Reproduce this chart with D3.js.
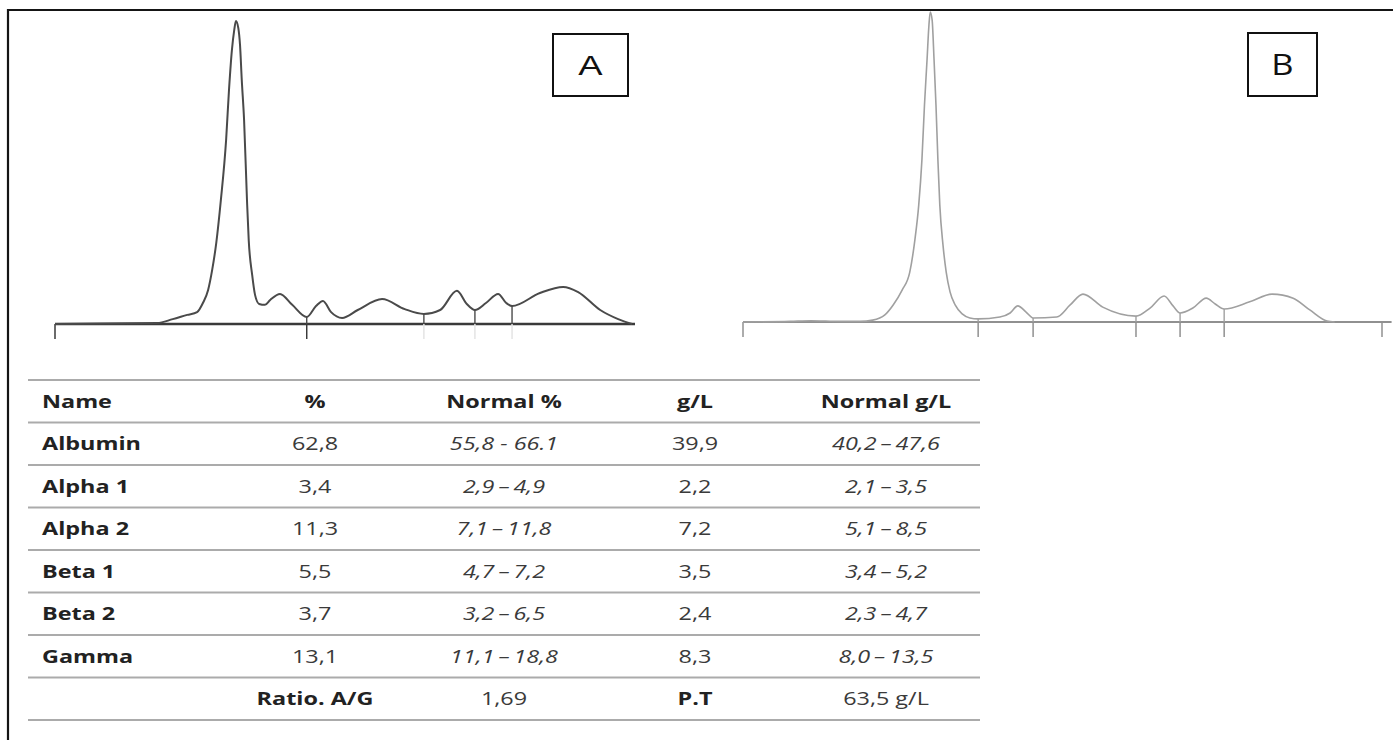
<!DOCTYPE html>
<html>
<head>
<meta charset="utf-8">
<script src="https://cdn.jsdelivr.net/npm/d3@7"></script>
<style>
  body { margin: 0; background: #fff; }
  svg { display: block; }
</style>
</head>
<body>
<script>
const W = 1393, H = 740;

// densitometry traces: [relative migration, relative absorbance]
const traceA = [
  [0, 0], [7.8, 0.2], [17.6, 0.3], [20.3, 1.6], [22.8, 3.0], [24.5, 3.9], [25.5, 6.9],
  [26.4, 11.2], [27.1, 17.8], [27.8, 26.6], [28.6, 40.8], [29.5, 60.5], [30.0, 77],
  [30.5, 90.1], [30.9, 96.7], [31.2, 99.7], [31.6, 97.4], [31.9, 91.8], [32.2, 80.3],
  [32.6, 67.1], [33.1, 40.8], [33.4, 27.6], [34.0, 16.1], [34.5, 9.5], [35.2, 6.6],
  [36.2, 6.3], [37.1, 7.9], [38.8, 9.9], [40.9, 6.3], [43.4, 2.3], [45.0, 5.9],
  [46.2, 7.6], [47.6, 3.9], [49.5, 2.0], [52.2, 4.6], [56.4, 8.2], [60.3, 4.9],
  [63.6, 3.3], [66.4, 4.6], [69.3, 10.9], [71.0, 6.6], [72.4, 4.6], [74.3, 6.9],
  [76.4, 9.9], [77.8, 6.9], [78.8, 5.9], [83.6, 10.2], [87.6, 12.2], [90.2, 10.5],
  [94.0, 4.6], [97.1, 1.6], [99.5, 0]
];
const traceB = [
  [0, 0], [7.4, 0.2], [10.6, 0.4], [15.2, 0.2], [18.3, 0.2], [20.3, 0.6], [22.2, 2.3],
  [23.5, 5.5], [24.9, 10.3], [26.1, 16.1], [26.9, 26.5], [27.5, 37.7], [28.0, 52.3],
  [28.4, 70], [28.8, 84.5], [29.1, 95.8], [29.3, 100], [29.6, 97.4], [29.9, 84.5],
  [30.2, 70], [30.5, 52.3], [30.8, 37.7], [31.3, 24.8], [31.8, 16.1], [32.4, 9.7],
  [33.2, 5.5], [34.3, 2.6], [35.5, 1.3], [36.8, 1.0], [40.2, 1.6], [41.8, 2.9],
  [43.0, 5.2], [44.3, 3.2], [45.4, 1.3], [49.1, 1.6], [51.2, 5.5], [53.2, 9.0],
  [56.3, 4.8], [61.5, 1.9], [63.7, 4.5], [65.9, 8.4], [67.3, 5.2], [68.4, 2.9],
  [70.4, 4.5], [72.5, 7.7], [73.9, 5.8], [75.3, 4.2], [79.3, 6.5], [82.8, 9.0],
  [86.1, 7.7], [88.7, 3.9], [91.4, 0.3], [92.6, 0]
];

// fraction cut positions
const cutsA = [43.4, 63.6, 72.4, 78.8];
const cutsB = [36.8, 45.4, 61.5, 68.4, 75.3];

// table
const columns = ['Name', '%', 'Normal %', 'g/L', 'Normal g/L'];
const fractions = ['Albumin', 'Alpha 1', 'Alpha 2', 'Beta 1', 'Beta 2', 'Gamma'];
const percent = [62.8, 3.4, 11.3, 5.5, 3.7, 13.1];
const normalPercent = ['55,8 - 66.1', '2,9\u2009\u2013\u20094,9', '7,1\u2009\u2013\u200911,8', '4,7\u2009\u2013\u20097,2', '3,2\u2009\u2013\u20096,5', '11,1\u2009\u2013\u200918,8'];
const gramsPerL = [39.9, 2.2, 7.2, 3.5, 2.4, 8.3];
const normalGramsPerL = ['40,2\u2009\u2013\u200947,6', '2,1\u2009\u2013\u20093,5', '5,1\u2009\u2013\u20098,5', '3,4\u2009\u2013\u20095,2', '2,3\u2009\u2013\u20094,7', '8,0\u2009\u2013\u200913,5'];
const ratioAG = 1.69;
const totalProtein = 63.5;

const comma = f => v => d3.format(f)(v).replace('.', ',');
const fmt1 = comma('.1f'), fmt2 = comma('.2f');

const svg = d3.select('body').append('svg')
  .attr('width', W).attr('height', H)
  .style('font-family', '"Open Sans", sans-serif');

svg.append('rect').attr('width', W).attr('height', H).attr('fill', '#fff');

// frame (left + top)
svg.append('path')
  .attr('d', `M8,${H} L8,10 L${W},10`)
  .attr('fill', 'none')
  .attr('stroke', '#151515')
  .attr('stroke-width', 2.2);

// linear lookup of the trace height at a migration position
function valueAt(trace, x) {
  let i = d3.bisector(d => d[0]).left(trace, x);
  if (i <= 0) return trace[0][1];
  if (i >= trace.length) return trace[trace.length - 1][1];
  let a = trace[i - 1], b = trace[i];
  return a[1] + (b[1] - a[1]) * (x - a[0]) / (b[0] - a[0]);
}

function drawPanel({ trace, cuts, xRange, yRange, line, base, width, baseWidth, below, belowFaint, label, box, labelFont, labelSize, labelScale }) {
  let g = svg.append('g');
  let x = d3.scaleLinear().domain([0, 100]).range(xRange);
  let y = d3.scaleLinear().domain([0, 100]).range(yRange);
  let y0 = y(0);

  // baseline
  g.append('line')
    .attr('x1', x(0)).attr('x2', x(below.end))
    .attr('y1', y0).attr('y2', y0)
    .attr('stroke', base).attr('stroke-width', baseWidth);

  // ticks below the baseline
  g.selectAll('line.tick-down')
    .data(below.ticks)
    .enter().append('line')
    .attr('class', 'tick-down')
    .attr('x1', d => x(d)).attr('x2', d => x(d))
    .attr('y1', y0).attr('y2', y0 + 15)
    .attr('stroke', d => belowFaint.includes(d) ? '#e4e4e4' : base)
    .attr('stroke-width', 1.5);

  // fraction cuts, from baseline up to the trace
  g.selectAll('line.cut')
    .data(cuts)
    .enter().append('line')
    .attr('class', 'cut')
    .attr('x1', d => x(d)).attr('x2', d => x(d))
    .attr('y1', y0).attr('y2', d => y(valueAt(trace, d)))
    .attr('stroke', line).attr('stroke-width', 1.4);

  // trace
  g.append('path')
    .datum(trace)
    .attr('d', d3.line().x(d => x(d[0])).y(d => y(d[1])).curve(d3.curveMonotoneX))
    .attr('fill', 'none')
    .attr('stroke', line)
    .attr('stroke-width', width)
    .attr('stroke-linejoin', 'round');

  // label box
  g.append('rect')
    .attr('x', box[0]).attr('y', box[1]).attr('width', box[2]).attr('height', box[3])
    .attr('fill', 'none').attr('stroke', '#111').attr('stroke-width', 2);
  g.append('text')
    .attr('transform', `translate(${box[0] + box[2] / 2},${box[1] + box[3] / 2}) scale(${labelScale},1)`)
    .attr('text-anchor', 'middle')
    .attr('dy', '0.36em')
    .style('font-family', labelFont)
    .style('font-size', labelSize + 'px')
    .attr('fill', '#111')
    .text(label);
}

drawPanel({
  trace: traceA, cuts: cutsA,
  xRange: [55, 635], yRange: [324, 20],
  line: '#4a4a4a', base: '#3a3a3a', width: 2, baseWidth: 2.4,
  below: { end: 100, ticks: [0, 43.4, 63.6, 72.4, 78.8] }, belowFaint: [63.6, 72.4, 78.8],
  label: 'A', box: [553, 34, 75, 62], labelFont: '"Liberation Sans", Arial, sans-serif', labelSize: 28, labelScale: 1.3
});

drawPanel({
  trace: traceB, cuts: cutsB,
  xRange: [743, 1382], yRange: [322, 12],
  line: '#a0a0a0', base: '#909090', width: 1.6, baseWidth: 2,
  below: { end: 101.5, ticks: [0, 36.8, 45.4, 61.5, 68.4, 75.3, 100] }, belowFaint: [],
  label: 'B', box: [1248, 33, 69, 63], labelFont: '"Open Sans", sans-serif', labelSize: 30, labelScale: 1.15
});

// ---- table ----
const rows = ['header', ...fractions, 'footer'];
const rowBand = d3.scaleBand().domain(rows).range([380, 720]);
const colX = { name: 42, pct: 315, npct: 504, gl: 695, ngl: 886 };
const tableLeft = 28, tableRight = 980;
const sx = 1.3;

const table = svg.append('g');

table.selectAll('line.row')
  .data(d3.range(rows.length + 1))
  .enter().append('line')
  .attr('class', 'row')
  .attr('x1', tableLeft).attr('x2', tableRight)
  .attr('y1', i => 380 + i * rowBand.step())
  .attr('y2', i => 380 + i * rowBand.step())
  .attr('stroke', '#ababab').attr('stroke-width', 2);

function cell(row, x, str, { anchor = 'middle', bold = false, italic = false, color = '#3a3a3a' } = {}) {
  table.append('text')
    .attr('transform', `translate(${x},${rowBand(row) + rowBand.bandwidth() / 2}) scale(${sx},1)`)
    .attr('text-anchor', anchor)
    .attr('dy', '0.35em')
    .style('font-size', '18px')
    .style('font-weight', bold ? 700 : 400)
    .style('font-style', italic ? 'italic' : 'normal')
    .attr('fill', color)
    .text(str);
}

const colKeys = ['pct', 'npct', 'gl', 'ngl'];
cell('header', colX.name, columns[0], { anchor: 'start', bold: true, color: '#222' });
columns.slice(1).forEach((c, i) => cell('header', colX[colKeys[i]], c, { bold: true, color: '#222' }));

fractions.forEach((f, i) => {
  cell(f, colX.name, f, { anchor: 'start', bold: true, color: '#222' });
  cell(f, colX.pct, fmt1(percent[i]));
  cell(f, colX.npct, normalPercent[i], { italic: true });
  cell(f, colX.gl, fmt1(gramsPerL[i]));
  cell(f, colX.ngl, normalGramsPerL[i], { italic: true });
});

cell('footer', colX.pct, 'Ratio. A/G', { bold: true, color: '#222' });
cell('footer', colX.npct, fmt2(ratioAG));
cell('footer', colX.gl, 'P.T', { bold: true, color: '#222' });
cell('footer', colX.ngl, fmt1(totalProtein) + ' g/L');
</script>
</body>
</html>
